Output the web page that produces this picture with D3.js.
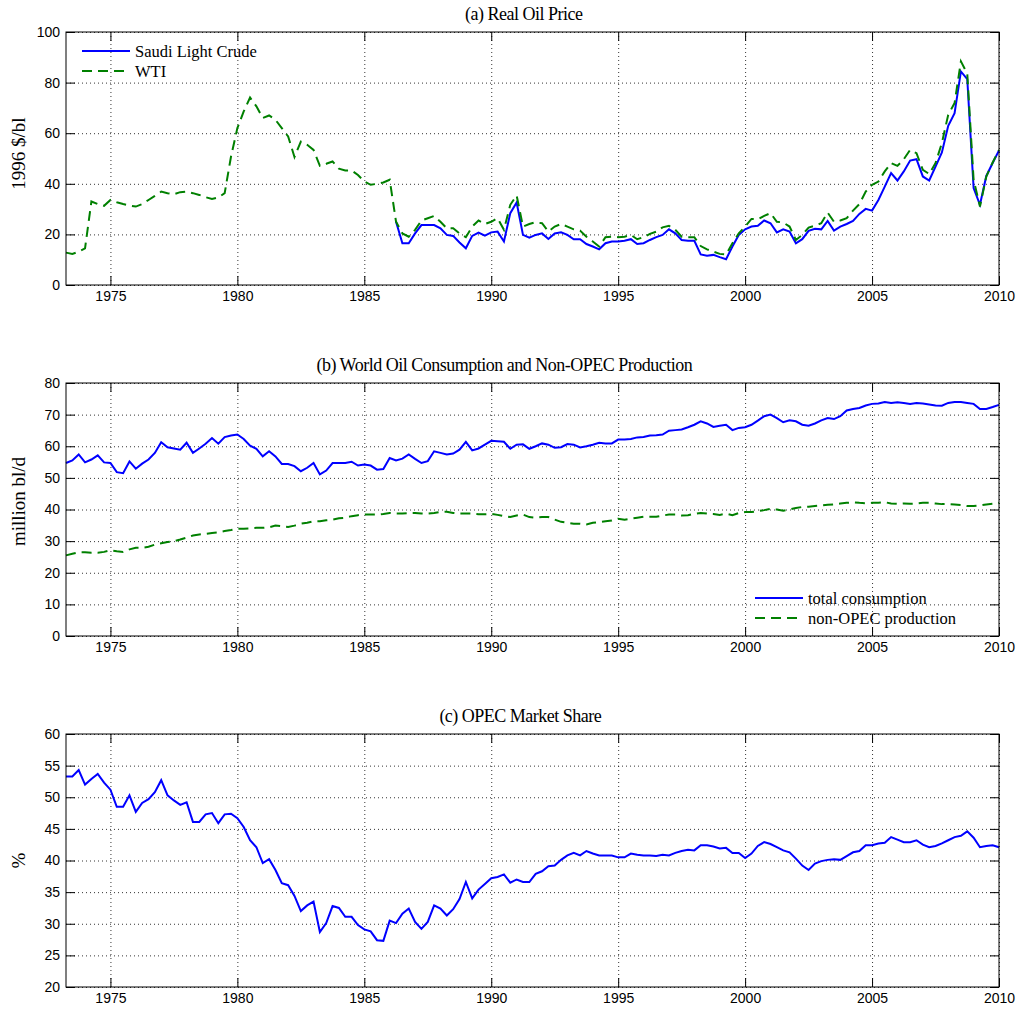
<!DOCTYPE html>
<html>
<head>
<meta charset="utf-8">
<script src="https://cdn.jsdelivr.net/npm/d3@7"></script>
<style>
  body { margin: 0; background: #fff; }
  .title, .ylabel, .legend text { font-family: "Liberation Serif", "Times New Roman", serif; fill: #000; }
  .tick text { font-family: "Liberation Sans", Arial, Helvetica, sans-serif; font-size: 14px; fill: #000; }
  .grid line { stroke: #000; stroke-dasharray: 1,3; stroke-width: 0.8; }
  .grid .domain, .inner .domain { display: none; }
  .inner line { stroke: #000; }
</style>
</head>
<body>
<div id="chart"></div>
<script>
//quarterly series, first quarter 1973Q2 (1973.25), last 2010Q1 (2010.0)
var seriesStart = 1973.25;
var saudiStart = 1986.25;   //Saudi Light Crude only starts in 1986

//x axis ticks
var yearTicks = [1975, 1980, 1985, 1990, 1995, 2000, 2005, 2010];

//(a) real oil price, 1996 $/bl
var wti = [
  12.8, 12.3, 13.2,            //1973
  14.5, 33.0, 32.0, 31.3,      //1974
  33.6, 32.7, 32.0, 31.4,
  31.0, 32.0, 33.6, 35.2,
  36.9, 36.3, 35.9, 36.7,
  36.9, 36.3, 35.6, 34.7,
  34.0, 34.6, 36.3, 50.8,      //1979
  62.0, 68.6, 74.1, 70.6,
  66.0, 67.0, 65.3, 62.0,
  58.7, 50.6, 56.7, 55.4,
  53.4, 47.1, 47.9, 48.8,
  46.0, 45.3, 45.3, 43.5,
  40.9, 39.6, 40.0, 40.5,      //1985
  41.6, 25.0, 20.4, 19.1,
  21.8, 25.5, 26.4, 27.3,
  25.0, 22.4, 22.4, 20.4,
  18.9, 23.1, 25.5, 24.1,
  25.0, 26.4, 21.8, 31.7,      //1990
  35.4, 23.1, 24.1, 24.8,
  24.4, 21.1, 23.1, 24.1,
  23.1, 22.0, 21.5, 19.1,
  17.2, 15.2, 18.9, 19.1,
  18.9, 19.1, 19.8, 18.1,      //1995
  18.9, 20.2, 21.1, 22.8,
  23.4, 21.8, 19.1, 18.9,
  18.9, 15.4, 14.1, 13.2,
  12.3, 12.1, 16.5, 20.4,
  23.1, 26.1, 26.0, 27.3,      //2000
  28.4, 25.0, 24.7, 23.1,
  17.8, 19.8, 22.7, 23.5,
  24.4, 28.6, 25.0, 25.5,
  26.4, 29.4, 32.0, 36.9,
  39.6, 40.9, 44.9, 48.2,      //2005
  47.1, 49.7, 53.4, 52.1,
  45.5, 43.9, 48.2, 56.1,
  67.3, 71.9, 88.4, 83.5,
  41.6, 31.0, 42.9, 48.4,
  53.4                          //2010
];

var saudi = [
  25.0, 16.5, 16.5,            //1986
  20.4, 23.7, 23.7, 23.7,
  22.4, 19.8, 19.4, 16.8,
  14.5, 19.4, 20.7, 19.5,
  20.8, 21.1, 17.2, 28.4,      //1990
  32.6, 19.8, 18.7, 19.8,
  20.4, 18.2, 20.4, 20.8,
  19.8, 18.1, 18.1, 16.2,
  15.2, 14.1, 16.5, 17.2,
  17.2, 17.5, 18.1, 16.2,      //1995
  16.5, 17.8, 18.9, 19.8,
  22.0, 20.4, 17.8, 17.5,
  17.5, 12.1, 11.6, 11.9,
  11.0, 10.2, 15.2, 19.8,
  22.0, 23.1, 23.4, 25.5,      //2000
  24.4, 20.8, 22.0, 21.1,
  16.5, 18.1, 21.4, 22.2,
  22.0, 25.3, 21.5, 23.1,
  24.1, 25.3, 28.1, 30.1,
  29.4, 33.6, 38.9, 44.2,      //2005
  41.3, 44.9, 49.2, 49.7,
  42.9, 41.3, 46.8, 52.4,
  62.9, 67.9, 84.4, 81.4,
  38.3, 31.7, 43.1, 48.2,
  53.2                          //2010
];

//(b) world consumption and non-OPEC production, million bl/d
var consumption = [
  54.7, 55.5, 57.4,            //1973
  54.9, 55.8, 57.1, 54.9,
  54.7, 51.8, 51.5, 55.2,
  52.9, 54.5, 55.8, 57.9,
  61.3, 59.7, 59.3, 58.9,
  61.1, 57.9, 59.3, 60.8,
  62.6, 60.8, 62.9, 63.4,
  63.7, 62.3, 60.2, 59.2,      //1980
  56.8, 58.4, 56.8, 54.4,
  54.4, 53.7, 52.1, 53.2,
  54.7, 51.1, 52.3, 54.7,
  54.7, 54.7, 55.1, 53.9,
  54.2, 53.9, 52.6, 52.8,      //1985
  56.3, 55.5, 56.1, 57.4,
  56.0, 54.7, 55.3, 58.4,
  57.9, 57.4, 57.7, 58.9,
  61.4, 58.7, 59.3, 60.5,
  61.7, 61.6, 61.4, 59.2,      //1990
  60.5, 60.6, 59.2, 60.0,
  60.9, 60.5, 59.5, 59.7,
  60.7, 60.5, 59.6, 60.0,
  60.5, 61.1, 60.9, 60.9,
  62.1, 62.1, 62.3, 62.8,      //1995
  62.9, 63.4, 63.5, 63.7,
  64.9, 65.1, 65.3, 66.0,
  66.8, 67.9, 67.2, 66.1,
  66.5, 66.8, 65.1, 65.8,
  66.0, 66.8, 68.1, 69.5,      //2000
  70.0, 68.9, 67.6, 68.2,
  67.9, 66.8, 66.5, 67.2,
  68.2, 68.9, 68.6, 69.5,
  71.3, 71.8, 72.1, 72.9,
  73.4, 73.5, 74.0, 73.7,      //2005
  73.9, 73.7, 73.4, 73.7,
  73.5, 73.2, 72.9, 72.8,
  73.7, 74.0, 74.0, 73.7,
  73.4, 71.8, 71.8, 72.4,
  73.1                          //2010
];

var nonOpec = [
  25.5, 26.0, 26.5,            //1973
  26.5, 26.3, 26.3, 26.6,
  27.1, 26.8, 26.6, 27.4,
  27.9, 27.9, 28.2, 28.9,
  29.3, 29.7, 30.0, 30.5,
  31.1, 31.8, 32.1, 32.3,
  32.6, 32.8, 33.2, 33.5,
  33.9, 33.9, 34.0, 34.2,      //1980
  34.2, 34.4, 34.9, 34.7,
  34.5, 34.9, 35.5, 35.8,
  36.3, 36.3, 36.6, 36.8,
  37.2, 37.4, 37.9, 38.2,
  38.4, 38.4, 38.4, 38.6,      //1985
  38.9, 38.7, 38.7, 38.9,
  38.9, 38.7, 38.7, 38.9,
  39.2, 39.3, 38.9, 38.7,
  38.7, 38.7, 38.5, 38.5,
  38.6, 38.3, 37.9, 37.6,      //1990
  38.1, 38.4, 37.6, 37.4,
  37.6, 37.6, 36.8, 36.1,
  35.8, 35.5, 35.5, 35.3,
  35.8, 36.0, 36.3, 36.5,
  37.1, 36.8, 37.1, 37.4,      //1995
  37.7, 37.7, 37.7, 38.1,
  38.4, 38.4, 38.1, 38.2,
  38.6, 38.9, 38.7, 38.6,
  38.3, 38.7, 38.2, 38.9,
  39.2, 39.2, 39.5, 39.8,      //2000
  40.2, 40.0, 39.6, 40.0,
  40.5, 40.8, 40.9, 41.1,
  41.3, 41.5, 41.6, 41.9,
  42.1, 42.3, 42.1, 42.0,
  42.1, 42.1, 42.3, 41.9,      //2005
  41.8, 41.9, 41.8, 41.9,
  42.1, 42.1, 41.9, 41.7,
  41.7, 41.6, 41.4, 41.1,
  41.1, 41.3, 41.6, 41.8,
  42.1                          //2010
];

//(c) OPEC market share, %
var opecShare = [
  53.3, 53.3, 54.3,            //1973
  52.0, 52.9, 53.7, 52.3,
  51.2, 48.5, 48.5, 50.3,
  47.7, 49.1, 49.7, 50.8,
  52.7, 50.3, 49.5, 48.8,
  49.2, 46.1, 46.1, 47.3,
  47.5, 45.9, 47.3, 47.4,
  46.7, 45.3, 43.2, 42.1,      //1980
  39.6, 40.2, 38.5, 36.4,
  36.1, 34.4, 32.0, 32.9,
  33.5, 28.7, 30.1, 32.8,
  32.5, 31.1, 31.1, 29.8,
  29.1, 28.8, 27.4, 27.3,      //1985
  30.5, 30.1, 31.6, 32.4,
  30.3, 29.2, 30.3, 32.9,
  32.4, 31.3, 32.3, 33.9,
  36.6, 34.0, 35.4, 36.3,
  37.2, 37.4, 37.8, 36.5,      //1990
  37.0, 36.6, 36.6, 37.9,
  38.3, 39.1, 39.2, 40.1,
  40.8, 41.2, 40.8, 41.5,
  41.1, 40.8, 40.8, 40.8,
  40.5, 40.5, 41.1, 40.9,      //1995
  40.8, 40.8, 40.7, 40.9,
  40.8, 41.2, 41.5, 41.7,
  41.6, 42.4, 42.4, 42.2,
  41.9, 42.0, 41.2, 41.2,
  40.4, 41.1, 42.3, 42.9,      //2000
  42.6, 42.1, 41.6, 41.3,
  40.3, 39.2, 38.5, 39.5,
  39.9, 40.1, 40.2, 40.1,
  40.7, 41.3, 41.5, 42.4,
  42.4, 42.7, 42.8, 43.7,      //2005
  43.3, 42.9, 42.9, 43.2,
  42.5, 42.1, 42.3, 42.7,
  43.2, 43.7, 43.9, 44.6,
  43.6, 42.1, 42.3, 42.4,
  42.1                          //2010
];

(function(){

  var width = 1019, height = 1010;
  var left = 66, right = 999;
  var panelH = 253;

  var blue = "#0000ff", green = "#008000";
  var dashed = "10,6";

  var svg = d3.select("#chart")
      .append("svg")
      .attr("width", width)
      .attr("height", height);

  //shared x scale for all three panels
  var x = d3.scaleLinear()
      .domain([seriesStart, 2010])
      .range([0, right - left]);

  //turn a value array into [year, value] pairs
  function toPoints(values, start){
    return values.map(function(v, i){ return [start + i * 0.25, v]; });
  };

  var panels = [
    {
      top: 32, title: "(a) Real Oil Price", ylabel: "1996 $/bl", ylabelShift: -5,
      domain: [0, 100], ticks: d3.range(0, 101, 20),
      lines: [
        {name: "Saudi Light Crude", data: toPoints(saudi, saudiStart), color: blue, dash: null},
        {name: "WTI", data: toPoints(wti, seriesStart), color: green, dash: dashed}
      ],
      legend: {x: 16, y: 19}
    },
    {
      top: 383, title: "(b) World Oil Consumption and Non-OPEC Production", ylabel: "million bl/d", ylabelShift: -8,
      domain: [0, 80], ticks: d3.range(0, 81, 10),
      lines: [
        {name: "total consumption", data: toPoints(consumption, seriesStart), color: blue, dash: null},
        {name: "non-OPEC production", data: toPoints(nonOpec, seriesStart), color: green, dash: dashed}
      ],
      legend: {x: 689, y: 215}
    },
    {
      top: 734, title: "(c) OPEC Market Share", ylabel: "%", ylabelShift: 0,
      domain: [20, 60], ticks: d3.range(20, 61, 5),
      lines: [
        {name: "share", data: toPoints(opecShare, seriesStart), color: blue, dash: null}
      ],
      legend: null
    }
  ];

  panels.forEach(drawPanel);

  function drawPanel(p){
    var w = right - left;
    var g = svg.append("g")
        .attr("transform", "translate(" + left + "," + p.top + ")");

    var y = d3.scaleLinear()
        .domain(p.domain)
        .range([panelH, 0]);

    //dotted grid
    g.append("g")
        .attr("class", "grid")
        .call(d3.axisLeft(y).tickValues(p.ticks).tickSize(-w).tickFormat(""));
    g.append("g")
        .attr("class", "grid")
        .attr("transform", "translate(0," + panelH + ")")
        .call(d3.axisBottom(x).tickValues(yearTicks).tickSize(-panelH).tickFormat(""));

    //data lines
    var line = d3.line()
        .x(function(d){ return x(d[0]); })
        .y(function(d){ return y(d[1]); });

    p.lines.forEach(function(s){
      g.append("path")
          .datum(s.data)
          .attr("fill", "none")
          .attr("stroke", s.color)
          .attr("stroke-width", 2)
          .attr("stroke-dasharray", s.dash)
          .attr("d", line);
    });

    //inward ticks on all four sides, labels left and bottom
    g.append("g")
        .attr("class", "inner")
        .attr("transform", "translate(0," + panelH + ")")
        .call(d3.axisBottom(x).tickValues(yearTicks).tickSize(-9).tickPadding(6).tickFormat(d3.format("d")));
    g.append("g")
        .attr("class", "inner")
        .call(d3.axisTop(x).tickValues(yearTicks).tickSize(-9).tickFormat(""));
    g.append("g")
        .attr("class", "inner")
        .call(d3.axisLeft(y).tickValues(p.ticks).tickSize(-9).tickPadding(6));
    g.append("g")
        .attr("class", "inner")
        .attr("transform", "translate(" + w + ",0)")
        .call(d3.axisRight(y).tickValues(p.ticks).tickSize(-9).tickFormat(""));

    //box
    g.append("rect")
        .attr("width", w)
        .attr("height", panelH)
        .attr("fill", "none")
        .attr("stroke", "#000")
        .attr("stroke-width", 1);

    //title: tight serif, sits a bit left of centre like the original
    var title = g.append("text")
        .attr("class", "title")
        .attr("y", -12)
        .style("font-size", "18px")
        .style("letter-spacing", "-0.5px")
        .text(p.title);
    var len = title.node().getComputedTextLength();
    title.attr("x", w / 2 - 0.575 * len);

    g.append("text")
        .attr("class", "ylabel")
        .attr("transform", "translate(-41," + (panelH / 2 + p.ylabelShift) + ") rotate(-90)")
        .attr("text-anchor", "middle")
        .style("font-size", "19px")
        .text(p.ylabel);

    if (p.legend){
      var lg = g.append("g")
          .attr("class", "legend")
          .attr("transform", "translate(" + p.legend.x + "," + p.legend.y + ")");
      p.lines.forEach(function(s, i){
        lg.append("line")
            .attr("x1", 0).attr("x2", 48)
            .attr("y1", i * 20).attr("y2", i * 20)
            .attr("stroke", s.color)
            .attr("stroke-width", 2)
            .attr("stroke-dasharray", s.dash);
        lg.append("text")
            .attr("x", 53)
            .attr("y", i * 20)
            .attr("dy", "0.35em")
            .style("font-size", "16.5px")
            .text(s.name);
      });
    };
  };

})();
</script>
</body>
</html>
